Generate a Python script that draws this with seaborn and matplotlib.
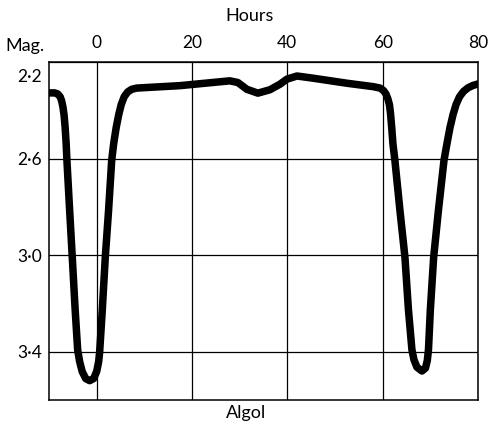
import matplotlib
matplotlib.use("Agg")
import matplotlib.pyplot as plt
import matplotlib.transforms as mtransforms
import seaborn as sns
import pandas as pd

hours = [-10.0, -8.82, -8.19, -7.66, -7.35, -7.08, -6.82, -6.61, -6.40, -6.24,
         -5.67, -5.12, -4.51, -3.99, -3.57, -3.04, -2.31, -1.47, -0.63, 0.0,
         0.42, 0.63, 1.18, 1.81, 2.50, 3.15, 3.57, 4.09, 4.62, 5.14,
         5.77, 6.51, 7.35, 8.40, 17.44, 27.94, 29.62, 31.51, 33.82, 36.34,
         38.45, 39.92, 42.02, 45.38, 52.52, 57.98, 59.45, 60.16, 60.68, 61.10,
         61.42, 61.63, 61.90, 62.15, 62.57, 63.62, 64.67, 65.41, 66.14, 66.56,
         67.19, 68.24, 68.98, 69.36, 69.61, 70.00, 70.70, 71.70, 72.86, 73.49,
         74.12, 74.75, 75.38, 76.12, 76.96, 77.90, 78.95, 80.0]
mags = [2.328, 2.328, 2.332, 2.344, 2.361, 2.386, 2.423, 2.472, 2.538, 2.608,
        2.814, 3.008, 3.227, 3.392, 3.441, 3.482, 3.511, 3.520, 3.511, 3.482,
        3.441, 3.400, 3.227, 3.008, 2.814, 2.608, 2.538, 2.472, 2.419, 2.377,
        2.344, 2.324, 2.313, 2.308, 2.298, 2.278, 2.285, 2.313, 2.329, 2.315,
        2.292, 2.271, 2.258, 2.267, 2.288, 2.302, 2.308, 2.318, 2.332, 2.353,
        2.377, 2.410, 2.472, 2.538, 2.608, 2.814, 3.008, 3.227, 3.392, 3.433,
        3.464, 3.480, 3.468, 3.437, 3.392, 3.227, 3.008, 2.814, 2.608, 2.538,
        2.472, 2.419, 2.377, 2.344, 2.322, 2.307, 2.297, 2.291]

xticks = [0, 20, 40, 60, 80]
yticks = [2.2, 2.6, 3.0, 3.4]
ytick_labels = ["2·2", "2·6", "3·0", "3·4"]

df = pd.DataFrame({"Hours": hours, "Mag": mags})

sns.set_theme(style="white")
plt.rcParams["font.family"] = ["Lato", "DejaVu Sans"]

fig = plt.figure(figsize=(4.88, 4.33), dpi=100)
ax = fig.add_axes([49 / 488, 1 - 400 / 433, (478 - 49) / 488, (400 - 62) / 433])

sns.lineplot(data=df, x="Hours", y="Mag", sort=False, estimator=None,
             color="black", linewidth=5.4, ax=ax,
             solid_joinstyle="round", solid_capstyle="round")

ax.set_xlim(-10, 80)
ax.set_ylim(3.6, 2.2)
ax.xaxis.tick_top()
ax.set_xticks(xticks)
ax.set_xticklabels([str(v) for v in xticks])
ax.set_yticks(yticks)
ax.set_yticklabels(ytick_labels)
ax.tick_params(axis="both", length=0, labelsize=12.5, colors="black")
ax.tick_params(axis="x", pad=8)
ax.tick_params(axis="y", pad=5)
ax.set_xlabel("")
ax.set_ylabel("")
ax.grid(True, color="black", linewidth=0.9)
ax.set_axisbelow(True)
for s in ax.spines.values():
    s.set_visible(True)
    s.set_color("black")
    s.set_linewidth(1.1)

# the top magnitude label sits slightly below its gridline
lbl = ax.get_yticklabels()[0]
lbl.set_transform(lbl.get_transform() +
                  mtransforms.ScaledTranslation(0, -13 / 100, fig.dpi_scale_trans))

fig.text(250 / 488, 1 - 16 / 433, "Hours", ha="center", va="center",
         fontsize=13, color="black")
fig.text(5 / 488, 1 - 46 / 433, "Mag.", ha="left", va="center",
         fontsize=13, color="black")
fig.text(246 / 488, 1 - 413 / 433, "Algol", ha="center", va="center",
         fontsize=13, color="black")

fig.savefig("out.png", dpi=100)
